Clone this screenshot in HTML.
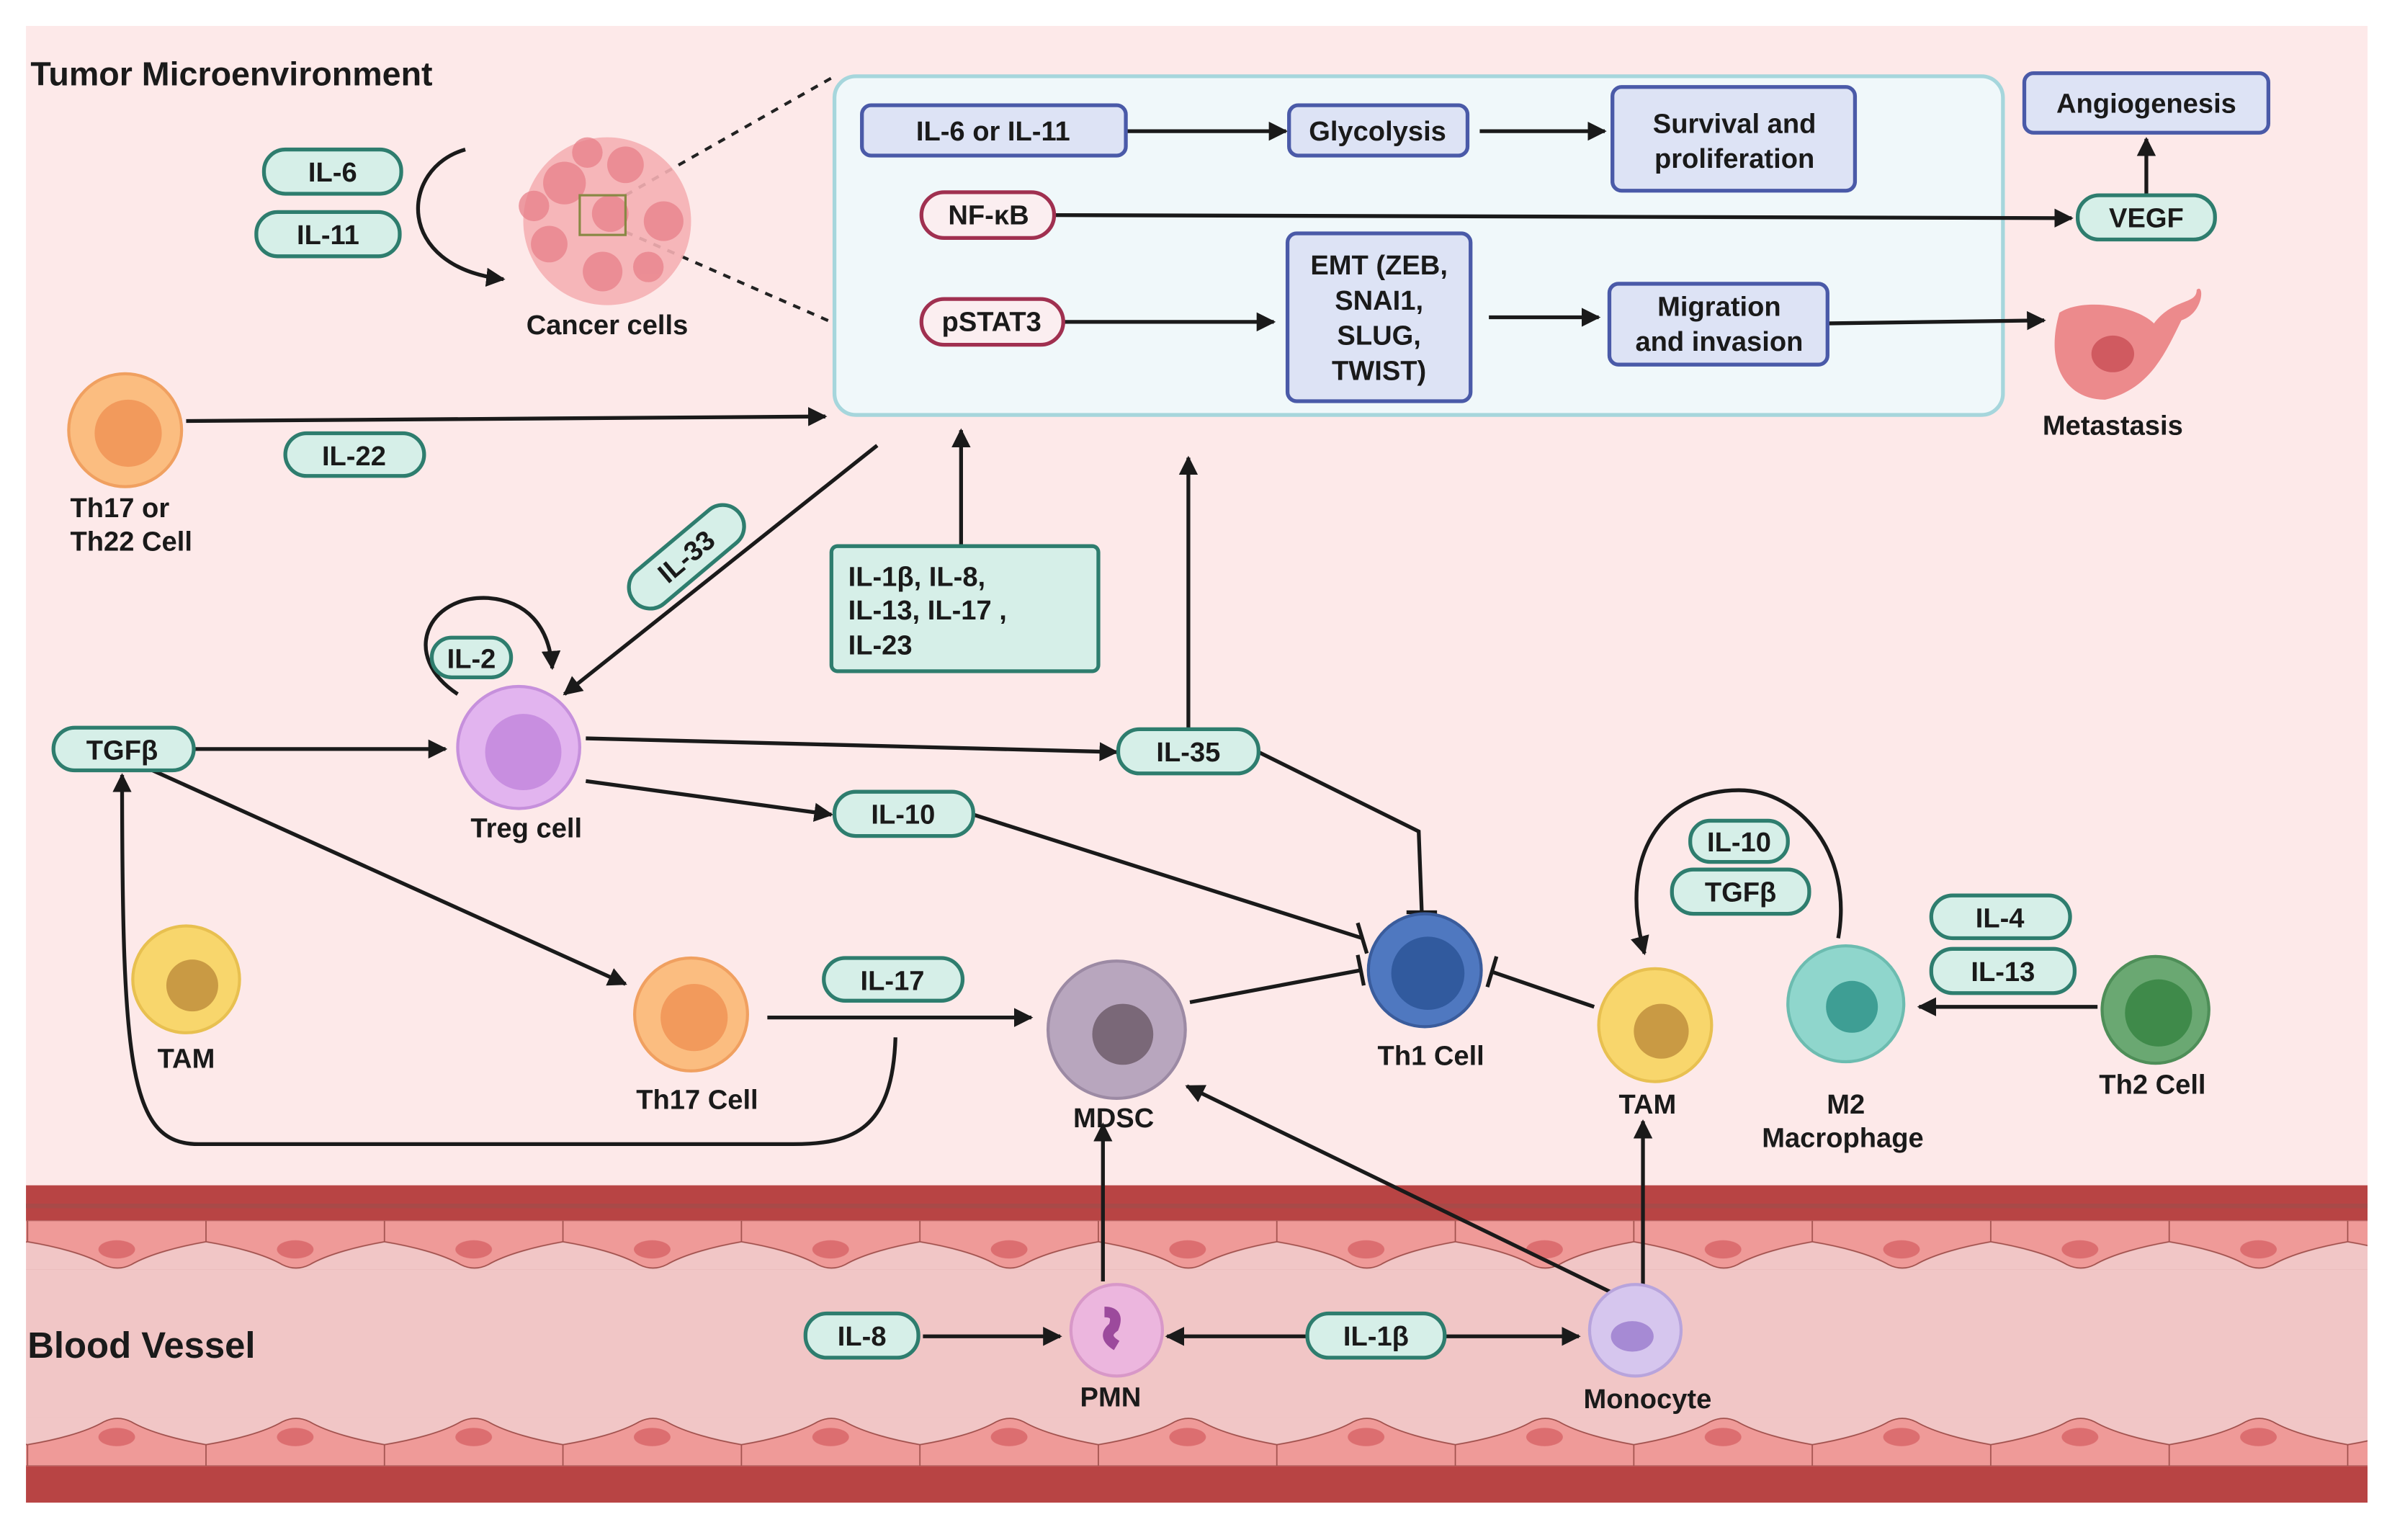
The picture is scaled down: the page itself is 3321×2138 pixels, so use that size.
<!DOCTYPE html>
<html><head><meta charset="utf-8"><style>
html,body{margin:0;padding:0;background:#fff}
svg{display:block}
text{font-family:"Liberation Sans",sans-serif;font-weight:bold;fill:#1a1a1a}
</style></head><body>
<svg width="3321" height="2138" viewBox="0 0 1568 1009.5" xmlns="http://www.w3.org/2000/svg">
<defs>
<marker id="a" viewBox="0 0 10 10" refX="9" refY="5" markerWidth="5" markerHeight="5" orient="auto-start-reverse"><path d="M0,0L10,5L0,10z" fill="#1a1a1a"/></marker>
<pattern id="topc" x="18" y="800" width="117" height="32" patternUnits="userSpaceOnUse">
<path d="M0,0 L117,0 L117,14 C100,17 80,22 68,29 C62,32 56,32 50,29 C38,22 18,17 0,14Z" fill="#ef9a98" stroke="#a0504c" stroke-width="0.8"/>
<ellipse cx="58.5" cy="19" rx="12" ry="6" fill="#dc6e70"/>
</pattern>
<pattern id="botc" x="18" y="929" width="117" height="32" patternUnits="userSpaceOnUse">
<path d="M0,32 L117,32 L117,18 C100,15 80,10 68,3 C62,0 56,0 50,3 C38,10 18,15 0,18Z" fill="#ef9a98" stroke="#a0504c" stroke-width="0.8"/>
<ellipse cx="58.5" cy="13" rx="12" ry="6" fill="#dc6e70"/>
</pattern>
</defs>
<rect x="17" y="17" width="1535" height="760" fill="#fde9e9"/>
<rect x="17" y="777" width="1535" height="208" fill="#f1c6c6"/>
<rect x="17" y="777" width="1535" height="23" fill="#b84444"/>
<rect x="17" y="789" width="1535" height="3" fill="#a84a48"/>
<rect x="17" y="800" width="1535" height="32" fill="url(#topc)"/>
<rect x="17" y="929" width="1535" height="32" fill="url(#botc)"/>
<rect x="17" y="961" width="1535" height="24" fill="#b84444"/>

<text x="20" y="56" font-size="22">Tumor Microenvironment</text>
<text x="18" y="890" font-size="24">Blood Vessel</text>

<rect x="547" y="50" width="766" height="222" rx="14" fill="#f0f8fa" stroke="#a6d6dc" stroke-width="2.5"/>
<line x1="410" y1="128" x2="547" y2="50" stroke="#222" stroke-width="2" stroke-dasharray="5,5"/>
<line x1="410" y1="152" x2="547" y2="212" stroke="#222" stroke-width="2" stroke-dasharray="5,5"/>

<g stroke="#1a1a1a" stroke-width="2.5" fill="none" marker-end="url(#a)">
<line x1="738" y1="86" x2="843" y2="86"/>
<line x1="970" y1="86" x2="1052" y2="86"/>
<line x1="691" y1="141" x2="1358" y2="143"/>
<line x1="1407" y1="128" x2="1407" y2="91"/>
<line x1="697" y1="211" x2="835" y2="211"/>
<line x1="976" y1="208" x2="1048" y2="208"/>
<line x1="1198" y1="212" x2="1340" y2="210"/>
<line x1="122" y1="276" x2="541" y2="273"/>
<line x1="575" y1="292" x2="370" y2="455"/>
<line x1="630" y1="358" x2="630" y2="282"/>
<line x1="779" y1="478" x2="779" y2="300"/>
<line x1="127" y1="491" x2="292" y2="491"/>
<line x1="384" y1="484" x2="732" y2="493"/>
<line x1="384" y1="512" x2="545" y2="534"/>
<line x1="100" y1="505" x2="410" y2="645"/>
<path d="M587,680 C585,740 560,750 520,750 L130,750 C85,750 80,700 80,508"/>
<line x1="503" y1="667" x2="676" y2="667"/>
<path d="M300,455 C262,430 280,390 320,392 C345,394 360,410 362,438"/>
<path d="M1205,615 C1215,560 1180,518 1140,518 C1090,518 1060,560 1078,625"/>
<line x1="1375" y1="660" x2="1258" y2="660"/>
<path d="M305,98 C262,110 258,175 330,183"/>
<line x1="723" y1="840" x2="723" y2="737"/>
<line x1="1058" y1="848" x2="778" y2="712"/>
<line x1="1077" y1="842" x2="1077" y2="735"/>
<line x1="605" y1="876" x2="695" y2="876"/>
<line x1="765" y1="876" x2="1035" y2="876" marker-start="url(#a)"/>
</g>
<g stroke="#1a1a1a" stroke-width="2.5" fill="none">
<line x1="638" y1="534" x2="893" y2="615"/><line x1="890" y1="605" x2="896" y2="625"/>
<path d="M825,493 L930,545 L932,598"/><line x1="922" y1="598" x2="942" y2="598"/>
<line x1="780" y1="657" x2="892" y2="636"/><line x1="890" y1="626" x2="894" y2="646"/>
<line x1="1045" y1="660" x2="978" y2="637"/><line x1="981" y1="627" x2="975" y2="647"/>
</g>

<g>
<circle cx="398" cy="145" r="55" fill="#f5b0b4" opacity="0.9"/>
<g fill="#e8808a" opacity="0.75"><circle cx="370" cy="120" r="14"/><circle cx="410" cy="108" r="12"/><circle cx="435" cy="145" r="13"/><circle cx="395" cy="178" r="13"/><circle cx="360" cy="160" r="12"/><circle cx="400" cy="140" r="12"/><circle cx="425" cy="175" r="10"/><circle cx="350" cy="135" r="10"/><circle cx="385" cy="100" r="10"/></g>
<rect x="380" y="128" width="30" height="26" fill="none" stroke="#884" stroke-width="1.5"/>
<text x="398" y="219" font-size="18" text-anchor="middle">Cancer cells</text>

<circle cx="82" cy="282" r="37" fill="#fbbd80" stroke="#f0a060" stroke-width="2"/><circle cx="84" cy="284" r="22" fill="#f29a5c"/>
<text x="46" y="339" font-size="18">Th17  or</text><text x="46" y="361" font-size="18">Th22 Cell</text>

<circle cx="340" cy="490" r="40" fill="#e2b4ef" stroke="#c690dc" stroke-width="2"/><circle cx="343" cy="493" r="25" fill="#c88ee0"/>
<text x="345" y="549" font-size="18" text-anchor="middle">Treg cell</text>

<circle cx="122" cy="642" r="35" fill="#f8d66c" stroke="#e8c050" stroke-width="2"/><circle cx="126" cy="646" r="17" fill="#c99a44"/>
<text x="122" y="700" font-size="18" text-anchor="middle">TAM</text>

<circle cx="453" cy="665" r="37" fill="#fbbd80" stroke="#f0a060" stroke-width="2"/><circle cx="455" cy="667" r="22" fill="#f29a5c"/>
<text x="457" y="727" font-size="18" text-anchor="middle">Th17 Cell</text>

<circle cx="732" cy="675" r="45" fill="#b8a6be" stroke="#9c8aa4" stroke-width="2"/><circle cx="736" cy="678" r="20" fill="#7a6878"/>
<text x="730" y="739" font-size="18" text-anchor="middle">MDSC</text>

<circle cx="934" cy="636" r="37" fill="#4f78c0" stroke="#3a5c9c" stroke-width="2"/><circle cx="936" cy="638" r="24" fill="#315a9e"/>
<text x="938" y="698" font-size="18" text-anchor="middle">Th1 Cell</text>

<circle cx="1085" cy="672" r="37" fill="#f8d66c" stroke="#e8c050" stroke-width="2"/><circle cx="1089" cy="676" r="18" fill="#c99a44"/>
<text x="1080" y="730" font-size="18" text-anchor="middle">TAM</text>

<circle cx="1210" cy="658" r="38" fill="#8fd6cc" stroke="#6cbcb0" stroke-width="2"/><circle cx="1214" cy="660" r="17" fill="#3e9e94"/>
<text x="1210" y="730" font-size="18" text-anchor="middle">M2</text><text x="1208" y="752" font-size="18" text-anchor="middle">Macrophage</text>

<circle cx="1413" cy="662" r="35" fill="#6aa872" stroke="#4e8e58" stroke-width="2"/><circle cx="1415" cy="664" r="22" fill="#3f8a4a"/>
<text x="1411" y="717" font-size="18" text-anchor="middle">Th2 Cell</text>

<circle cx="732" cy="872" r="30" fill="#ecb6de" stroke="#d898c8" stroke-width="2"/><path d="M724,860 q10,0 6,10 q-8,6 2,12" stroke="#9c4a9c" stroke-width="7" fill="none"/>
<text x="728" y="922" font-size="18" text-anchor="middle">PMN</text>

<circle cx="1072" cy="872" r="30" fill="#d6c6ee" stroke="#b8a4dc" stroke-width="2"/><ellipse cx="1070" cy="876" rx="14" ry="10" fill="#a68ad4"/>
<text x="1080" y="923" font-size="18" text-anchor="middle">Monocyte</text>

<path d="M1350,205 C1365,195 1400,200 1412,212 C1425,195 1440,200 1440,190 C1445,185 1445,205 1430,210 C1420,230 1410,255 1380,262 C1355,262 1340,240 1350,205Z" fill="#ec8a8c"/><ellipse cx="1385" cy="232" rx="14" ry="12" fill="#d05a60"/>
<text x="1385" y="285" font-size="18" text-anchor="middle">Metastasis</text>
</g>

<g font-size="18" text-anchor="middle">
<g fill="#d6efe8" stroke="#2e7d6e" stroke-width="2.5">
<rect x="173" y="98" width="90" height="29" rx="14"/>
<rect x="168" y="139" width="94" height="29" rx="14"/>
<rect x="187" y="284" width="91" height="28" rx="14"/>
<rect x="405" y="351" width="90" height="28" rx="14" transform="rotate(-40 450 365)"/>
<rect x="283" y="418" width="52" height="26" rx="13"/>
<rect x="545" y="358" width="175" height="82" rx="4"/>
<rect x="35" y="477" width="92" height="28" rx="14"/>
<rect x="733" y="478" width="92" height="29" rx="14"/>
<rect x="547" y="519" width="91" height="29" rx="14"/>
<rect x="540" y="628" width="91" height="28" rx="14"/>
<rect x="1108" y="538" width="64" height="27" rx="13"/>
<rect x="1096" y="570" width="90" height="29" rx="14"/>
<rect x="1266" y="587" width="91" height="28" rx="14"/>
<rect x="1266" y="622" width="94" height="29" rx="14"/>
<rect x="528" y="861" width="74" height="29" rx="14"/>
<rect x="857" y="861" width="90" height="29" rx="14"/>
<rect x="1362" y="128" width="90" height="29" rx="14"/>
</g>
<text x="218" y="119">IL-6</text>
<text x="215" y="160">IL-11</text>
<text x="232" y="305">IL-22</text>
<text x="450" y="371" transform="rotate(-40 450 365)">IL-33</text>
<text x="309" y="438">IL-2</text>
<text x="80" y="498">TGFβ</text>
<text x="779" y="499">IL-35</text>
<text x="592" y="540">IL-10</text>
<text x="585" y="649">IL-17</text>
<text x="1140" y="558">IL-10</text>
<text x="1141" y="591">TGFβ</text>
<text x="1311" y="608">IL-4</text>
<text x="1313" y="643">IL-13</text>
<text x="565" y="882">IL-8</text>
<text x="902" y="882">IL-1β</text>
<text x="1407" y="149">VEGF</text>
</g>
<g font-size="18"><text x="556" y="384">IL-1β, IL-8,</text><text x="556" y="406">IL-13, IL-17 ,</text><text x="556" y="429">IL-23</text></g>

<g fill="#dde3f5" stroke="#4a5aa8" stroke-width="2.5">
<rect x="565" y="69" width="173" height="33" rx="6"/>
<rect x="845" y="69" width="117" height="33" rx="6"/>
<rect x="1057" y="57" width="159" height="68" rx="6"/>
<rect x="1327" y="48" width="160" height="39" rx="6"/>
<rect x="844" y="153" width="120" height="110" rx="6"/>
<rect x="1055" y="186" width="143" height="53" rx="6"/>
</g>
<g fill="#fbeef0" stroke="#a03050" stroke-width="2.5">
<rect x="604" y="126" width="87" height="30" rx="15"/>
<rect x="604" y="196" width="93" height="30" rx="15"/>
</g>
<g font-size="18" text-anchor="middle">
<text x="651" y="92">IL-6 or IL-11</text>
<text x="903" y="92">Glycolysis</text>
<text x="1137" y="87">Survival and</text><text x="1137" y="110">proliferation</text>
<text x="1407" y="74">Angiogenesis</text>
<text x="648" y="147">NF-κB</text>
<text x="650" y="217">pSTAT3</text>
<text x="904" y="180">EMT (ZEB,</text><text x="904" y="203">SNAI1,</text><text x="904" y="226">SLUG,</text><text x="904" y="249">TWIST)</text>
<text x="1127" y="207">Migration</text><text x="1127" y="230">and invasion</text>
</g>
</svg>
</body></html>
